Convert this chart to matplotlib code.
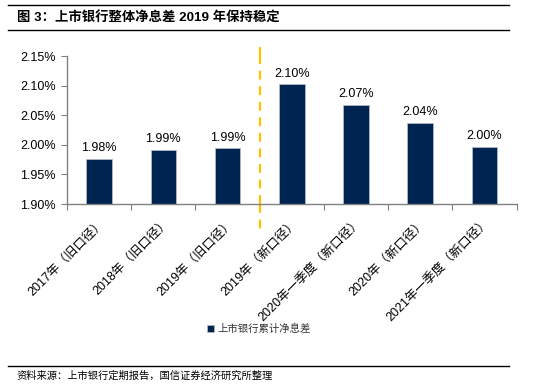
import matplotlib
matplotlib.use("Agg")
import matplotlib.pyplot as plt
import numpy as np
from matplotlib.lines import Line2D

plt.rcParams['font.family'] = ['Liberation Sans', 'Noto Sans CJK SC', 'DejaVu Sans']

categories = ["2017年（旧口径）", "2018年（旧口径）", "2019年（旧口径）",
              "2019年（新口径）", "2020年一季度（新口径）", "2020年（新口径）",
              "2021年一季度（新口径）"]
values = [1.976, 1.991, 1.994, 2.102, 2.068, 2.037, 1.997]
value_labels = ["1.98%", "1.99%", "1.99%", "2.10%", "2.07%", "2.04%", "2.00%"]
yticks = [1.90, 1.95, 2.00, 2.05, 2.10, 2.15]
series_name = "上市银行累计净息差"
title = "图 3：上市银行整体净息差 2019 年保持稳定"
source = "资料来源：上市银行定期报告，国信证券经济研究所整理"

navy = "#002451"
gray = "#808080"

fig = plt.figure(figsize=(5.57, 3.90), dpi=100)
ax = fig.add_axes([0.1203, 0.4769, 0.8073, 0.3795])

x = np.arange(len(categories))
ax.bar(x, np.array(values) - 1.90, bottom=1.90, width=0.4, color=navy,
       edgecolor="#b0b8c4", linewidth=0.6, label=series_name)
for xi, v, lab in zip(x, values, value_labels):
    ax.text(xi, v + 0.008, lab, ha='center', va='bottom', fontsize=9, color='black')

ax.set_xlim(-0.5, len(categories) - 0.5)
ax.set_ylim(1.90, 2.15)
ax.set_yticks(yticks)
ax.set_yticklabels(["%.2f%%" % t for t in yticks], fontsize=9)
ax.set_xticks(np.arange(len(categories) + 1) - 0.5, minor=False)
ax.set_xticklabels([])
ax.set_xticks(x, minor=True)
ax.set_xticklabels(categories, minor=True, rotation=45, ha='right',
                   rotation_mode='anchor', fontsize=9)
ax.tick_params(axis='x', which='minor', length=0, pad=9)
ax.tick_params(axis='x', which='major', length=4, color=gray, direction='out')
ax.tick_params(axis='y', length=4, color=gray, direction='out', pad=4)
for s in ['top', 'right']:
    ax.spines[s].set_visible(False)
for s in ['left', 'bottom']:
    ax.spines[s].set_color(gray)
    ax.spines[s].set_linewidth(1)

# dashed separator between old and new caliber
sep = Line2D([2.5, 2.5], [0, 1], transform=ax.get_xaxis_transform(),
             color="#FFC000", linestyle=(0, (4, 3)), linewidth=1.6, clip_on=False)
ax.add_line(sep)
ax.plot([2.5, 2.5], [1.90, 1.85], color="#FFC000", linestyle=(0, (4, 3)),
        linewidth=1.6, clip_on=False)
ax.plot([2.5, 2.5], [2.15, 2.165], color="#FFC000", linestyle=(0, (4, 3)),
        linewidth=1.6, clip_on=False)

leg = fig.legend(loc='center', bbox_to_anchor=(0.465, 0.157), frameon=False,
                 fontsize=7.5, handlelength=0.7, handleheight=0.7, handletextpad=0.3)
for t in leg.get_texts():
    t.set_color("#333333")

# title and frame lines
fig.add_artist(Line2D([0.0144, 0.914], [0.987, 0.987], color='black', linewidth=1))
fig.add_artist(Line2D([0.0144, 0.914], [0.923, 0.923], color='black', linewidth=1))
fig.text(0.03, 0.955, title, fontsize=9.6, fontweight='bold', va='center', ha='left')
fig.add_artist(Line2D([0.0144, 0.914], [0.062, 0.062], color='black', linewidth=1))
fig.text(0.03, 0.038, source, fontsize=7.4, va='center', ha='left')

fig.savefig("out.png", dpi=100)
